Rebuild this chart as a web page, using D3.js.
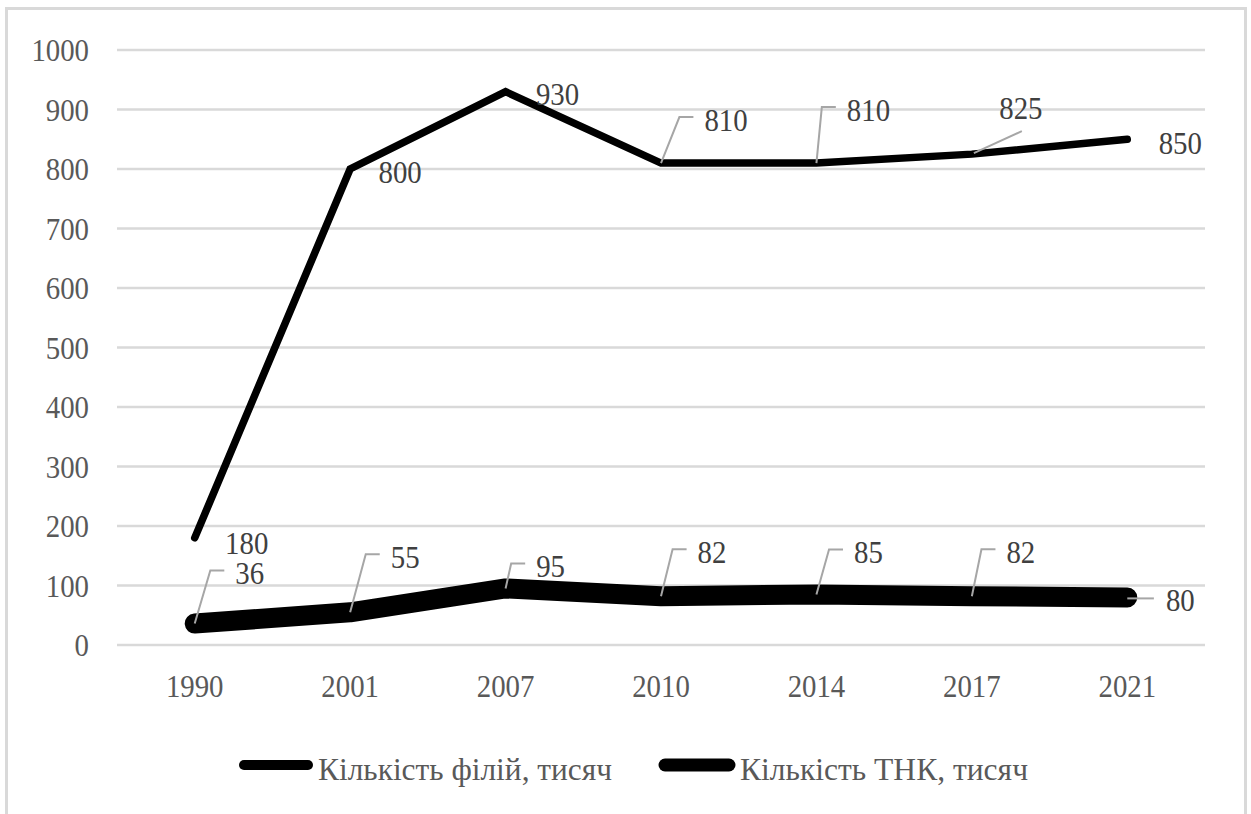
<!DOCTYPE html>
<html><head>
<script src="https://cdn.jsdelivr.net/npm/d3@7/dist/d3.min.js"></script>
</head><body>
<script>
// ---- data ----
const years = ["1990","2001","2007","2010","2014","2017","2021"];
const branches = [180, 800, 930, 810, 810, 825, 850];   // Кількість філій, тисяч
const tnc = [36, 55, 95, 82, 85, 82, 80];                // Кількість ТНК, тисяч
const yTicks = [0,100,200,300,400,500,600,700,800,900,1000];
const seriesNames = ["Кількість філій, тисяч", "Кількість ТНК, тисяч"];

// ---- layout (label offsets relative to points) ----
const layout1 = [
  {dx:52, dy:5, lead:null}, {dx:50, dy:3, lead:null}, {dx:52, dy:2, lead:null},
  {dx:65, dy:-43, lead:"elbow"}, {dx:52, dy:-53, lead:"elbow"},
  {dx:49, dy:-46, lead:"diag"}, {dx:53, dy:4, lead:null}
];
const layout2 = [
  {dx:55, dy:-50, lead:"elbow"}, {dx:55, dy:-55, lead:"elbow"}, {dx:45, dy:-22, lead:"elbow"},
  {dx:51, dy:-44, lead:"elbow"}, {dx:52, dy:-42, lead:"elbow"}, {dx:49, dy:-44, lead:"elbow"},
  {dx:53, dy:3, lead:"horiz"}
];

document.body.style.margin = "0";
const W = 1251, H = 814;
const FONT = '"Liberation Serif", serif';
const svg = d3.select("body").append("svg").attr("width", W).attr("height", H)
  .style("display","block").style("font-family", FONT);

svg.append("rect").attr("x",6.5).attr("y",8.5).attr("width",1239).attr("height",900)
  .attr("fill","#fff").attr("stroke","#d9d9d9").attr("stroke-width",3);

const plot = {left:117, right:1205, top:50, bottom:645};
const x = d3.scaleBand().domain(years).range([plot.left, plot.right]);
const y = d3.scaleLinear().domain([0,1000]).range([plot.bottom, plot.top]);
const cx = d => x(d) + x.bandwidth()/2;

const FS = 32, SX = 0.9;
function txt(g, xx, yy, s, anchor, color){
  return g.append("text")
    .attr("transform", `translate(${xx},${yy}) scale(${SX},1)`)
    .attr("text-anchor", anchor).attr("dy","0.34em")
    .style("font-family", FONT)
    .attr("font-size", FS).attr("fill", color).text(s);
}

// grid
svg.append("g").selectAll("line").data(yTicks).join("line")
  .attr("x1", plot.left).attr("x2", plot.right)
  .attr("y1", d=>y(d)).attr("y2", d=>y(d))
  .attr("stroke","#d9d9d9").attr("stroke-width",2.5);

// y axis labels
const yAxis = svg.append("g").attr("transform",`translate(${plot.left},0)`)
  .call(d3.axisLeft(y).tickValues(yTicks).tickFormat(d3.format("d")).tickSize(0))
  .attr("font-family", null).attr("font-size", null);
yAxis.select(".domain").remove();
yAxis.selectAll(".tick text")
  .style("font-family", FONT).attr("font-size", FS).attr("fill","#595959")
  .attr("x", null).attr("dy", "0.34em")
  .attr("transform", `translate(-28,0) scale(${SX},1)`);

// x axis labels
const xAxis = svg.append("g").attr("transform",`translate(0,${plot.bottom})`)
  .call(d3.axisBottom(x).tickSize(0))
  .attr("font-family", null).attr("font-size", null);
xAxis.select(".domain").remove();
xAxis.selectAll(".tick text")
  .style("font-family", FONT).attr("font-size", FS).attr("fill","#595959")
  .attr("y", null).attr("dy", "0.34em")
  .attr("transform",`translate(0,41) scale(${SX},1)`);

// lines
const line = d3.line().x((d,i)=>cx(years[i])).y(d=>y(d));
svg.append("path").datum(tnc).attr("d", line).attr("fill","none")
  .attr("stroke","#000").attr("stroke-width",20).attr("stroke-linecap","round").attr("stroke-linejoin","round");
svg.append("path").datum(branches).attr("d", line).attr("fill","none")
  .attr("stroke","#000").attr("stroke-width",7.5).attr("stroke-linecap","round").attr("stroke-linejoin","miter");

// labels
const lab = svg.append("g");
function labels(vals, lay){
  vals.forEach((v,i)=>{
    const px = cx(years[i]), py = y(v);
    const L = lay[i];
    const tx = px + L.dx, ty = py + L.dy;
    const t = txt(lab, tx, ty, String(v), "middle", "#404040");
    const w = t.node().getComputedTextLength() * SX;
    const left = tx - w/2;
    if (L.lead === "elbow"){
      lab.append("polyline")
        .attr("points", `${px},${py} ${left-25},${ty-3} ${left-11},${ty-3}`)
        .attr("fill","none").attr("stroke","#a6a6a6").attr("stroke-width",2);
    } else if (L.lead === "diag"){
      lab.append("line").attr("x1",px+2).attr("y1",py-1).attr("x2",tx+1).attr("y2",ty+23)
        .attr("stroke","#a6a6a6").attr("stroke-width",2);
    } else if (L.lead === "horiz"){
      lab.append("line").attr("x1",px).attr("y1",py+1).attr("x2",left-12).attr("y2",py+1)
        .attr("stroke","#a6a6a6").attr("stroke-width",2);
    }
  });
}
labels(branches, layout1);
labels(tnc, layout2);

// legend
const leg = svg.append("g");
const legItems = [
  {x1:244, x2:308, sw:10, tx:318, tw:294, name:seriesNames[0]},
  {x1:665, x2:729, sw:13, tx:740, tw:288, name:seriesNames[1]}
];
legItems.forEach(d=>{
  leg.append("line").attr("x1",d.x1).attr("x2",d.x2).attr("y1",765).attr("y2",765)
    .attr("stroke","#000").attr("stroke-width",d.sw).attr("stroke-linecap","round");
  leg.append("text").attr("x", d.tx).attr("y", 769).attr("dy","0.34em")
    .style("font-family", FONT).attr("font-size", 31).attr("fill","#595959")
    .attr("textLength", d.tw).attr("lengthAdjust","spacingAndGlyphs")
    .text(d.name);
});
</script>
</body></html>
